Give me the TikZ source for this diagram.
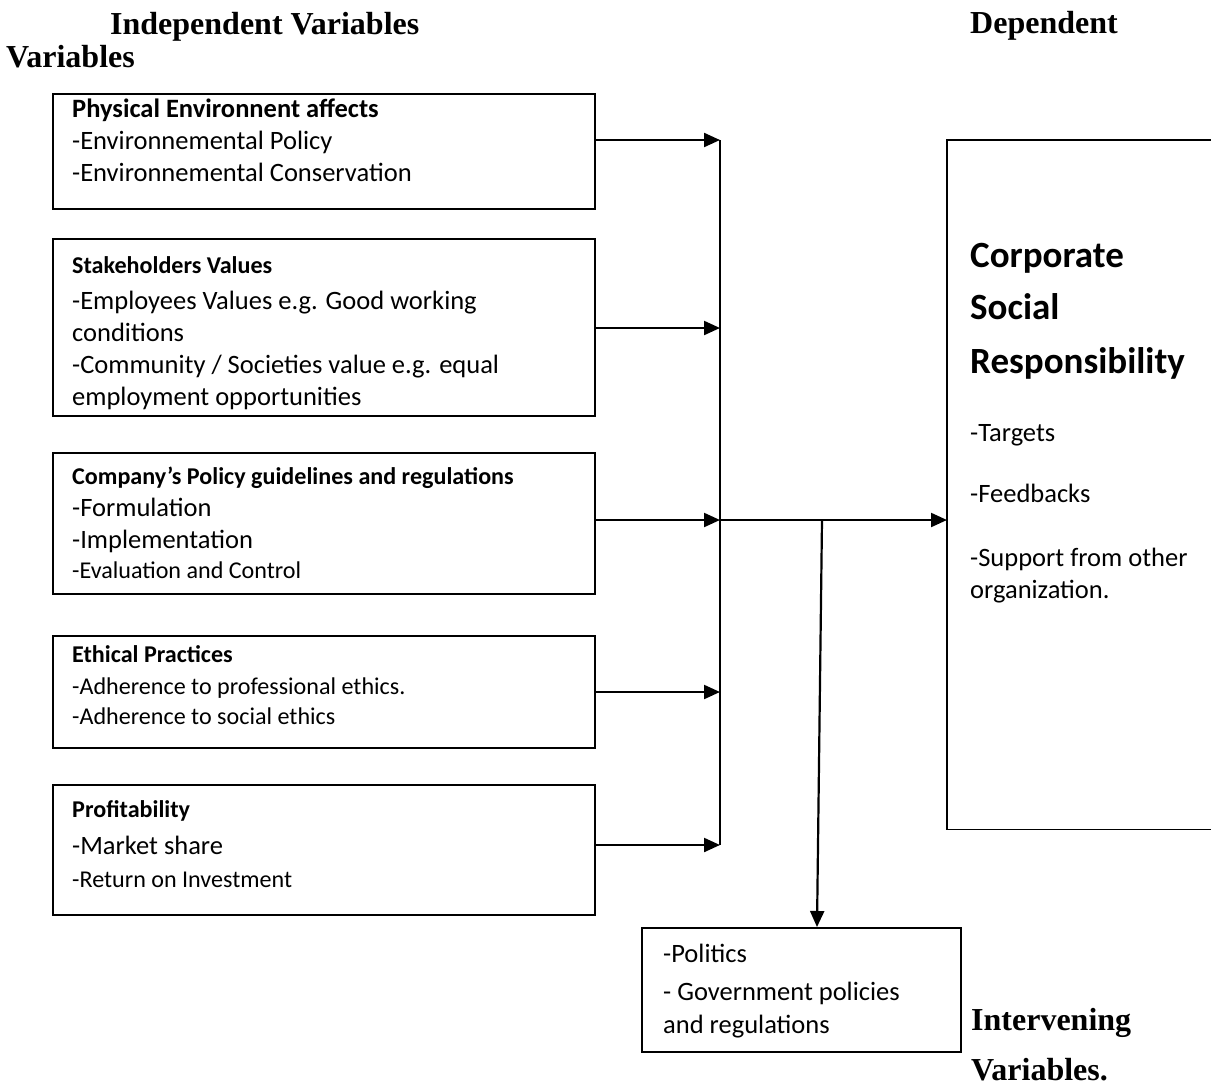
\documentclass[tikz,border=0pt]{standalone}
\usepackage{fontspec}
\setmainfont{Liberation Serif}
\newfontfamily\calib{Carlito}
\usetikzlibrary{arrows.meta}
\begin{document}
\begin{tikzpicture}[x=1pt,y=-1pt,
  vbox/.style={draw, line width=1.6pt, inner sep=0pt, minimum width=542pt, anchor=north west},
  big/.style={inner sep=0pt, anchor=base west, font=\calib\fontsize{26.5}{32}\selectfont},
  bigb/.style={inner sep=0pt, anchor=base west, font=\calib\bfseries\fontsize{26.5}{32}\selectfont},
  sml/.style={inner sep=0pt, anchor=base west, font=\calib\fontsize{24.1}{29}\selectfont},
  smlb/.style={inner sep=0pt, anchor=base west, font=\calib\bfseries\fontsize{24.1}{29}\selectfont},
  huge/.style={inner sep=0pt, anchor=base west, font=\calib\bfseries\fontsize{37}{44}\selectfont},
  head/.style={inner sep=0pt, anchor=base west, font=\bfseries\fontsize{32}{38}\selectfont},
  arr/.style={line width=2.2pt, -{Triangle[length=16pt,width=14pt]}},
  ln/.style={line width=2.2pt}
]
\useasboundingbox (0,0) rectangle (1211,1088);

% headings
\node[head] (hind) at (110,34) {Independent Variables};
\node[head] (hvar) at (6,67) {Variables};
\node[head] (hdep) at (970,33) {Dependent};
\node[head] (hint) at (971,1030) {Intervening};
\node[head] (hint2) at (971,1080) {Variables.};

% box 1
\node[vbox, minimum height=115pt] (b1) at (52,93) {};
\node[bigb] (t1) at (72,117) {Physical Environnent affects};
\node[big] (t1a) at (72,149) {-Environnemental Policy};
\node[big] (t1b) at (72,181) {-Environnemental Conservation};

% box 2
\node[vbox, minimum height=177pt] (b2) at (52,238) {};
\node[smlb] (t2) at (72,273.5) {Stakeholders Values};
\node[big] (t2a) at (72,309) {-Employees Values e.g. Good working};
\node[big] (t2b) at (72,341) {conditions};
\node[big] (t2c) at (72,373) {-Community / Societies value e.g. equal};
\node[big] (t2d) at (72,405) {employment opportunities};

% box 3
\node[vbox, minimum height=141pt] (b3) at (52,452) {};
\node[smlb] (t3) at (72,484.5) {Company’s Policy guidelines and regulations};
\node[big] (t3a) at (72,516) {-Formulation};
\node[big] (t3b) at (72,548) {-Implementation};
\node[sml] (t3c) at (72,578.5) {-Evaluation and Control};

% box 4
\node[vbox, minimum height=112pt] (b4) at (52,635) {};
\node[smlb] (t4) at (72,662.5) {Ethical Practices};
\node[sml] (t4a) at (72,694.5) {-Adherence to professional ethics.};
\node[sml] (t4b) at (72,724.5) {-Adherence to social ethics};

% box 5
\node[vbox, minimum height=130pt] (b5) at (52,784) {};
\node[smlb] (t5) at (72,817.5) {Profitability};
\node[big] (t5a) at (72,854) {-Market share};
\node[sml] (t5b) at (72,887.5) {-Return on Investment};

% dependent box (right side runs off the page)
\node[inner sep=0pt, minimum width=270pt, minimum height=689pt, anchor=north west] (csr) at (947,140) {};
\draw[line width=1.6pt] (csr.north east) -- (csr.north west) -- (csr.south west) -- (csr.south east);
\node[huge] (c1) at (970,267) {Corporate};
\node[huge] (c2) at (970,319) {Social};
\node[huge] (c3) at (970,373) {Responsibility};
\node[big] (c4) at (970,441) {-Targets};
\node[big] (c5) at (970,502) {-Feedbacks};
\node[big] (c6) at (970,566) {-Support from other};
\node[big] (c7) at (970,598) {organization.};

% intervening box
\node[draw, line width=1.6pt, inner sep=0pt, minimum width=319pt, minimum height=124pt, anchor=north west] (pol) at (641,927) {};
\node[big] (p1) at (663,962) {-Politics};
\node[big] (p2) at (663,1000) {- Government policies};
\node[big] (p3) at (663,1033) {and regulations};

% junctions
\coordinate (j1) at (720,140);
\coordinate (j2) at (720,328);
\coordinate (j3) at (720,520);
\coordinate (j4) at (720,692);
\coordinate (j5) at (720,845);
\coordinate (k) at (822,520);

\draw[arr] (b1.east |- j1) -- (j1);
\draw[arr] (b2.east |- j2) -- (j2);
\draw[arr] (b3.east |- j3) -- (j3);
\draw[arr] (b4.east |- j4) -- (j4);
\draw[arr] (b5.east |- j5) -- (j5);
\draw[ln] (j1) -- (j5);
\draw[arr] (j3) -- (csr.west |- j3);
\draw[arr] (k) -- ([xshift=176pt]pol.north west);
\end{tikzpicture}
\end{document}
